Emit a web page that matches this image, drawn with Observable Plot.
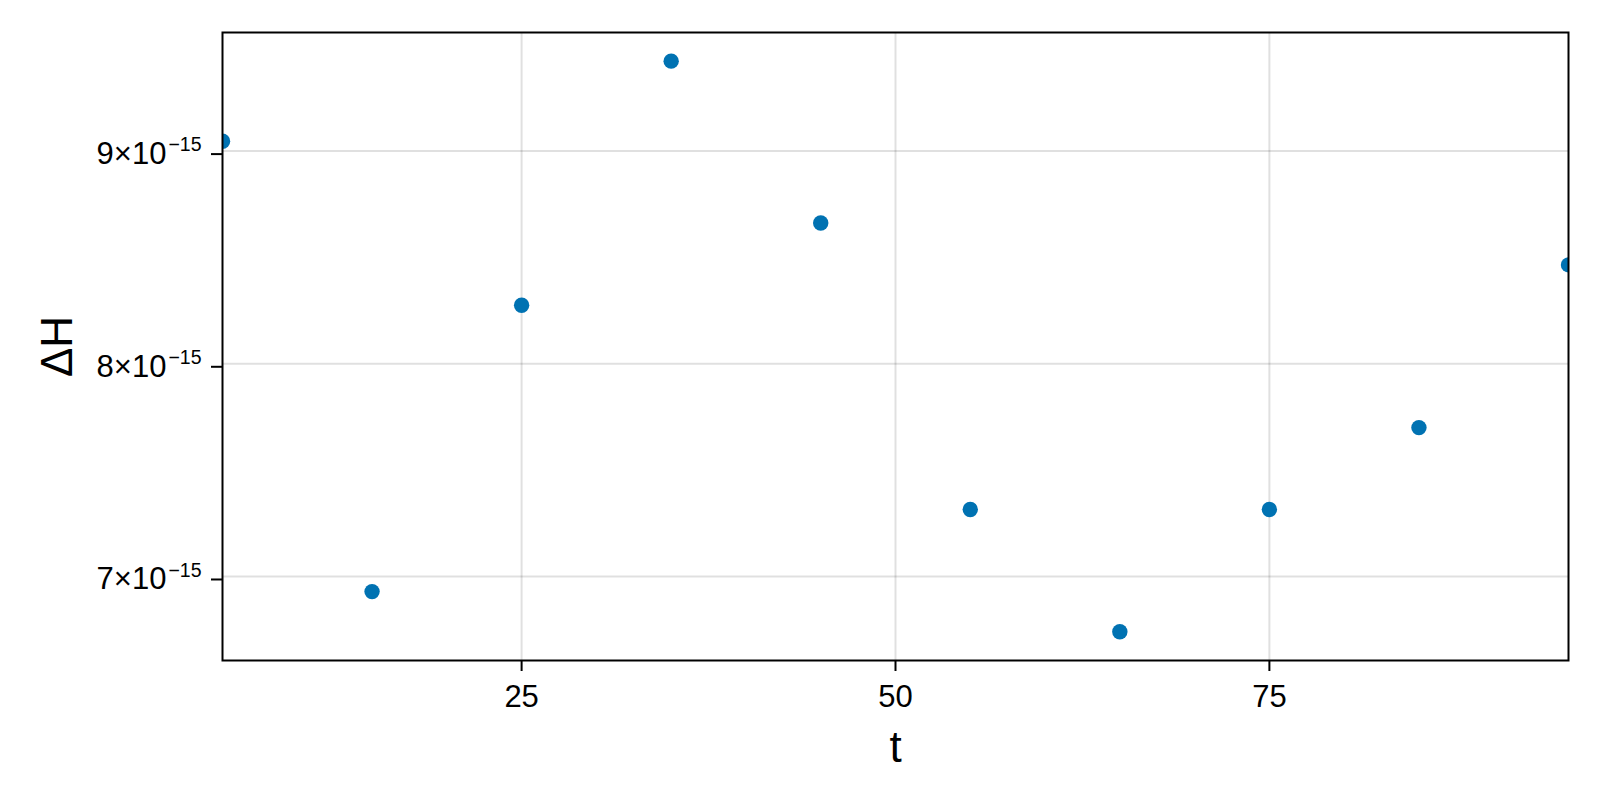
<!DOCTYPE html>
<html>
<head>
<meta charset="utf-8">
<script src="https://cdn.jsdelivr.net/npm/d3@7"></script>
<script src="https://cdn.jsdelivr.net/npm/@observablehq/plot@0.6"></script>
<style>
  html, body { margin: 0; padding: 0; background: #fff; }
  #chart svg { display: block; }
</style>
</head>
<body>
<div id="chart"></div>
<script>
// Data
const tValues = [5, 15, 25, 35, 45, 55, 65, 75, 85, 95];
const dHValues = [9.046e-15, 6.929e-15, 8.275e-15, 9.423e-15, 8.662e-15, 7.315e-15, 6.740e-15, 7.315e-15, 7.700e-15, 8.465e-15];
const xTicks = [25, 50, 75];
const yTicks = [7e-15, 8e-15, 9e-15];
const yExponent = -15;
const xLabel = "t";
const yLabel = "ΔH";

const data = tValues.map((t, i) => ({t, dH: dHValues[i]}));

const font = "'Liberation Sans', Arial, Helvetica, sans-serif";

const plot = Plot.plot({
  width: 1600,
  height: 800,
  marginLeft: 222,
  marginRight: 32,
  marginTop: 32,
  marginBottom: 140,
  style: {fontFamily: font, fontSize: "31px", background: "#fff", color: "#000"},
  x: {domain: [5, 95]},
  y: {domain: [6.605e-15, 9.5576e-15]},
  marks: [
    Plot.gridX(xTicks, {stroke: "#000", strokeOpacity: 0.12, strokeWidth: 2}),
    Plot.gridY(yTicks, {stroke: "#000", strokeOpacity: 0.12, strokeWidth: 2}),
    Plot.dot(data, {x: "t", y: "dH", r: 7.7, fill: "#0072b2", stroke: null, clip: true}),
    Plot.frame({stroke: "#000", strokeWidth: 2}),
    Plot.axisX({
      ticks: xTicks, tickSize: 11, tickPadding: 13, strokeWidth: 2,
      label: xLabel, labelAnchor: "center", labelArrow: "none", labelOffset: 101
    }),
    Plot.axisY({
      ticks: yTicks, tickSize: 11, tickPadding: 10, strokeWidth: 2, dy: 3,
      tickFormat: d => `${Math.round(d / Math.pow(10, yExponent))}×10`,
      label: yLabel, labelAnchor: "center", labelArrow: "none", labelOffset: 182
    })
  ]
});

document.getElementById("chart").appendChild(plot);

const svg = d3.select(plot);
svg.selectAll('g[aria-label="x-axis tick label"] text, g[aria-label="y-axis tick label"] text')
  .style("font-size", "31px");
// superscript exponent on y tick labels
svg.selectAll('g[aria-label="y-axis tick label"] text').each(function() {
  d3.select(this).append("tspan")
    .attr("dx", "2")
    .attr("dy", "-12.7")
    .style("font-size", "19.5px")
    .text("−" + String(-yExponent));
});
svg.selectAll('g[aria-label="x-axis label"] text, g[aria-label="y-axis label"] text')
  .style("font-size", "44px");
</script>
</body>
</html>
